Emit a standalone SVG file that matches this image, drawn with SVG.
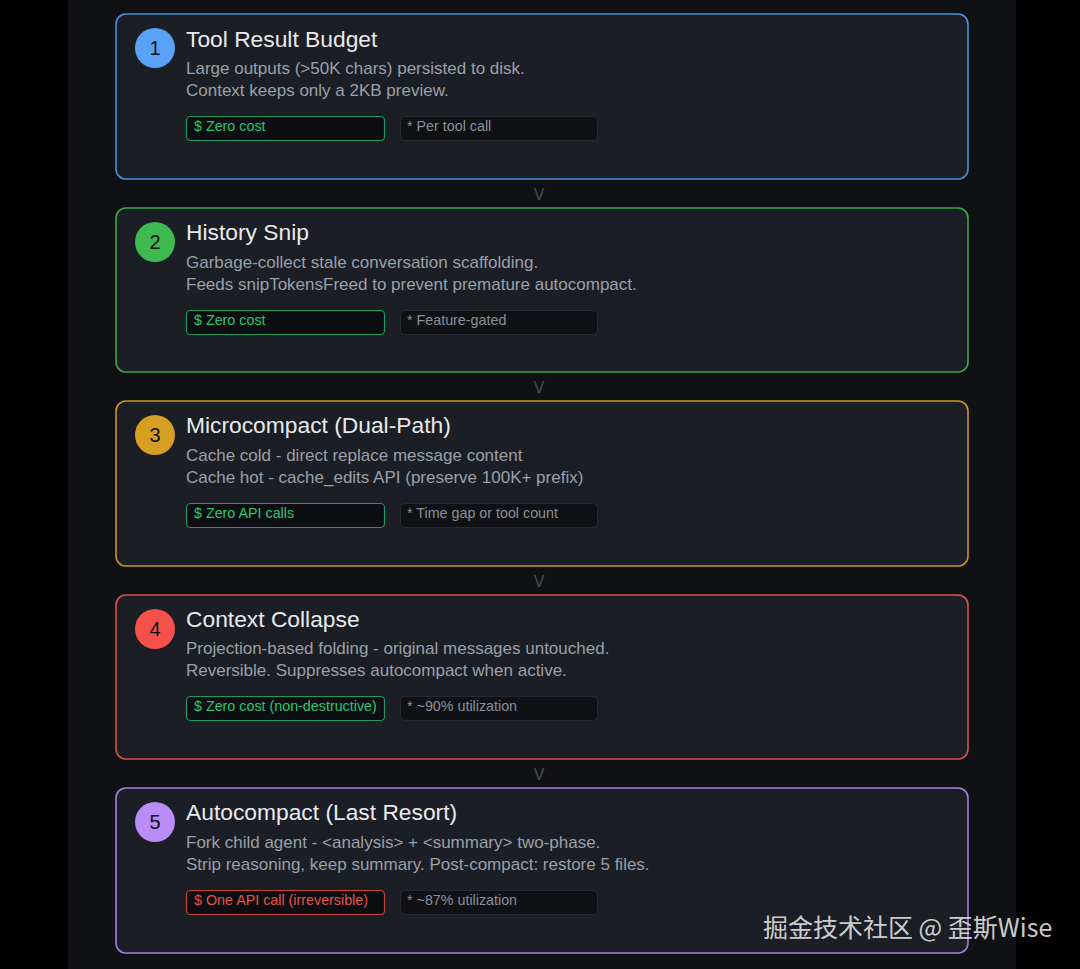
<svg xmlns="http://www.w3.org/2000/svg" width="1080" height="969" viewBox="0 0 1080 969">
<style>
.card{fill:#1b1e24;stroke-width:1.6}
.num{font-family:"Liberation Sans",Arial,sans-serif;font-size:20px;fill:#0d1117;text-anchor:middle}
.title{font-family:"Liberation Sans",Arial,sans-serif;font-size:22.8px;fill:#e8eaed}
.desc{font-family:"Liberation Sans",Arial,sans-serif;font-size:17px;fill:#9aa0a8}
.badge{fill:#0c0e12;stroke-width:1.2}
.btxt{font-family:"Liberation Sans",Arial,sans-serif;font-size:14.3px}
.gbadge{fill:#0f1115;stroke:#272a30;stroke-width:1}
.gtxt{font-family:"Liberation Sans",Arial,sans-serif;font-size:14.3px;fill:#8b9098}
.arrow{font-family:"Liberation Sans",Arial,sans-serif;font-size:16px;fill:#4a4e55;text-anchor:middle}
</style>
<rect width="1080" height="969" fill="#000"/>
<rect x="68" y="0" width="948" height="969" fill="#0f1115"/>

<g id="connectors">
<text class="arrow" x="539" y="200">V</text>
<text class="arrow" x="539" y="393">V</text>
<text class="arrow" x="539" y="587">V</text>
<text class="arrow" x="539" y="780">V</text>
</g>

<g id="node1">
<rect class="card" x="116" y="14" width="852" height="165" rx="10" stroke="#4d8fd8"/>
<circle cx="155" cy="48" r="20" fill="#5aa2f8"/>
<text class="num" x="155" y="55">1</text>
<text class="title" x="186" y="47">Tool Result Budget</text>
<text class="desc" x="186" y="74">Large outputs (&gt;50K chars) persisted to disk.</text>
<text class="desc" x="186" y="96">Context keeps only a 2KB preview.</text>
<rect class="badge" x="186.5" y="116.5" width="198" height="24" rx="4" stroke="#1f9a5c"/>
<text class="btxt" x="194" y="131" fill="#2bc673">$ Zero cost</text>
<rect class="gbadge" x="400.5" y="116.5" width="197" height="24" rx="4"/>
<text class="gtxt" x="407" y="131">* Per tool call</text>
</g>

<g id="node2">
<rect class="card" x="116" y="208" width="852" height="164" rx="10" stroke="#3aa64a"/>
<circle cx="155" cy="242" r="20" fill="#3fba50"/>
<text class="num" x="155" y="249">2</text>
<text class="title" x="186" y="240">History Snip</text>
<text class="desc" x="186" y="268">Garbage-collect stale conversation scaffolding.</text>
<text class="desc" x="186" y="290">Feeds snipTokensFreed to prevent premature autocompact.</text>
<rect class="badge" x="186.5" y="310.5" width="198" height="24" rx="4" stroke="#1f9a5c"/>
<text class="btxt" x="194" y="325" fill="#2bc673">$ Zero cost</text>
<rect class="gbadge" x="400.5" y="310.5" width="197" height="24" rx="4"/>
<text class="gtxt" x="407" y="325">* Feature-gated</text>
</g>

<g id="node3">
<rect class="card" x="116" y="401" width="852" height="165" rx="10" stroke="#c9961f"/>
<circle cx="155" cy="435" r="20" fill="#d69f22"/>
<text class="num" x="155" y="442">3</text>
<text class="title" x="186" y="433">Microcompact (Dual-Path)</text>
<text class="desc" x="186" y="461">Cache cold - direct replace message content</text>
<text class="desc" x="186" y="483">Cache hot - cache_edits API (preserve 100K+ prefix)</text>
<rect class="badge" x="186.5" y="503.5" width="198" height="24" rx="4" stroke="#1f9a5c"/>
<text class="btxt" x="194" y="518" fill="#2bc673">$ Zero API calls</text>
<rect class="gbadge" x="400.5" y="503.5" width="197" height="24" rx="4"/>
<text class="gtxt" x="407" y="518">* Time gap or tool count</text>
</g>

<g id="node4">
<rect class="card" x="116" y="595" width="852" height="164" rx="10" stroke="#d9504c"/>
<circle cx="155" cy="629" r="20" fill="#f5504a"/>
<text class="num" x="155" y="636">4</text>
<text class="title" x="186" y="627">Context Collapse</text>
<text class="desc" x="186" y="654">Projection-based folding - original messages untouched.</text>
<text class="desc" x="186" y="676">Reversible. Suppresses autocompact when active.</text>
<rect class="badge" x="186.5" y="696.5" width="198" height="24" rx="4" stroke="#1f9a5c"/>
<text class="btxt" x="194" y="711" fill="#2bc673">$ Zero cost (non-destructive)</text>
<rect class="gbadge" x="400.5" y="696.5" width="197" height="24" rx="4"/>
<text class="gtxt" x="407" y="711">* ~90% utilization</text>
</g>

<g id="node5">
<rect class="card" x="116" y="788" width="852" height="165" rx="10" stroke="#a57fdc"/>
<circle cx="155" cy="822" r="20" fill="#b98cf7"/>
<text class="num" x="155" y="829">5</text>
<text class="title" x="186" y="820">Autocompact (Last Resort)</text>
<text class="desc" x="186" y="848">Fork child agent - &lt;analysis&gt; + &lt;summary&gt; two-phase.</text>
<text class="desc" x="186" y="870">Strip reasoning, keep summary. Post-compact: restore 5 files.</text>
<rect class="badge" x="186.5" y="890.5" width="198" height="24" rx="4" stroke="#c8423e"/>
<text class="btxt" x="194" y="905" fill="#e5534b">$ One API call (irreversible)</text>
<rect class="gbadge" x="400.5" y="890.5" width="197" height="24" rx="4"/>
<text class="gtxt" x="407" y="905">* ~87% utilization</text>
</g>

<text x="763" y="937" font-family="'Noto Sans CJK SC',sans-serif" font-size="25" fill="#e4e4e4" fill-opacity="0.9">掘金技术社区 @ 歪斯Wise</text>
</svg>
